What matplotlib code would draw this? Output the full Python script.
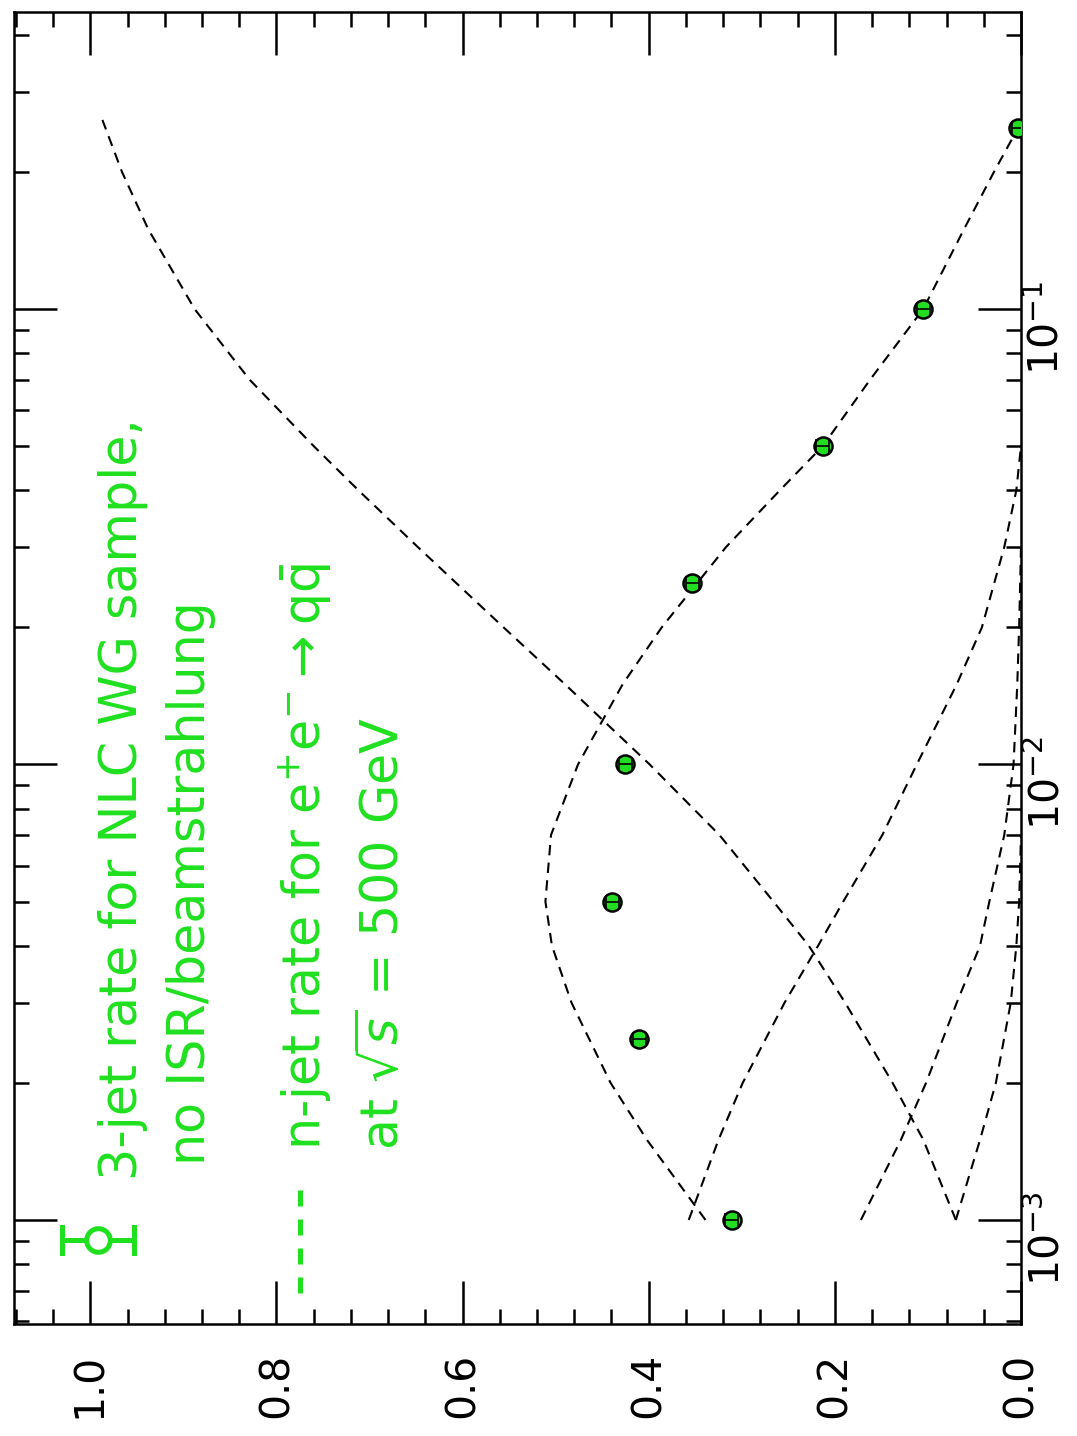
import matplotlib
matplotlib.use('Agg')
import matplotlib.pyplot as plt
import numpy as np
from matplotlib.ticker import MultipleLocator, LogLocator, NullFormatter, FormatStrFormatter
from matplotlib import transforms
from matplotlib.lines import Line2D

# 3-jet rate, NLC WG sample (points)
ycut_pts = [0.001, 0.0025, 0.005, 0.01, 0.025, 0.05, 0.1, 0.25]
rate3_pts = [0.311, 0.410, 0.439, 0.425, 0.353, 0.213, 0.105, 0.003]
rate3_err = [0.007, 0.007, 0.007, 0.007, 0.007, 0.007, 0.007, 0.007]

# n-jet rates for e+e- -> q qbar at sqrt(s) = 500 GeV (dashed curves)
ycut_2j = [0.001, 0.0015, 0.002, 0.003, 0.004, 0.005, 0.007, 0.01, 0.015, 0.02,
           0.03, 0.04, 0.05, 0.07, 0.1, 0.15, 0.2, 0.26]
rate_2j = [0.070, 0.105, 0.138, 0.189, 0.228, 0.266, 0.324, 0.399, 0.490, 0.556,
           0.648, 0.712, 0.760, 0.829, 0.888, 0.938, 0.966, 0.987]
ycut_3j = [0.001, 0.0015, 0.002, 0.003, 0.004, 0.005, 0.007, 0.01, 0.015, 0.02,
           0.03, 0.04, 0.05, 0.07, 0.1, 0.15, 0.2, 0.25]
rate_3j = [0.339, 0.402, 0.441, 0.483, 0.504, 0.511, 0.505, 0.476, 0.428, 0.386,
           0.317, 0.259, 0.213, 0.162, 0.105, 0.061, 0.029, 0.003]
ycut_4j = [0.001, 0.0015, 0.002, 0.003, 0.004, 0.005, 0.007, 0.01, 0.015, 0.02,
           0.03, 0.04, 0.05]
rate_4j = [0.357, 0.325, 0.299, 0.254, 0.218, 0.191, 0.149, 0.112, 0.069, 0.042,
           0.018, 0.005, 0.0]
ycut_5j = [0.001, 0.0015, 0.002, 0.003, 0.004, 0.005, 0.007, 0.01, 0.015, 0.02, 0.03]
rate_5j = [0.172, 0.129, 0.102, 0.069, 0.044, 0.034, 0.018, 0.008, 0.004, 0.002, 0.0]
ycut_6j = [0.001, 0.0015, 0.002, 0.003, 0.004, 0.005, 0.007]
rate_6j = [0.070, 0.044, 0.027, 0.011, 0.005, 0.002, 0.0]

log_ticks = [1e-3, 1e-2, 1e-1]

W, H = 1077, 1436
green = '#1fe01f'
hand = ['Liberation Sans Narrow', 'DejaVu Sans']

fig = plt.figure(figsize=(W / 100, H / 100), dpi=100)
ax = fig.add_axes([14 / W, 112 / H, 1007 / W, 1312 / H])

# rotated page: rate runs right-to-left, ycut (log) runs upward
ax.set_yscale('log')
ax.set_ylim(5.91e-4, 0.4487)
ax.set_xlim(1.082, 0.0)

dash = dict(color='black', lw=1.5, dashes=(5, 3.5))
for yc, r in [(ycut_2j, rate_2j), (ycut_3j, rate_3j), (ycut_4j, rate_4j),
              (ycut_5j, rate_5j), (ycut_6j, rate_6j)]:
    ax.plot(r, yc, **dash)

ax.plot(rate3_pts, ycut_pts, 'o', ms=13, mfc='#22dd22', mec='black', mew=1.8, zorder=4)
ax.errorbar(rate3_pts, ycut_pts, xerr=rate3_err, fmt='none', ecolor='black',
            elinewidth=1.2, capsize=5, capthick=1.2, zorder=5)

for s in ax.spines.values():
    s.set_linewidth(1.8)

ax.xaxis.set_major_locator(MultipleLocator(0.2))
ax.xaxis.set_minor_locator(MultipleLocator(0.04))
ax.xaxis.set_major_formatter(FormatStrFormatter('%.1f'))
ax.yaxis.set_major_locator(LogLocator(base=10))
ax.yaxis.set_minor_locator(LogLocator(base=10, subs=np.arange(2, 10)))
ax.yaxis.set_major_formatter(NullFormatter())
ax.yaxis.set_minor_formatter(NullFormatter())
ax.tick_params(which='both', direction='in', top=True, right=True, width=1.8)
ax.tick_params(which='major', length=31)
ax.tick_params(which='minor', length=11)
ax.tick_params(axis='x', labelsize=29.5, labelrotation=90, pad=21)

off = transforms.ScaledTranslation(6 / 100, -19 / 100, fig.dpi_scale_trans)
tr = transforms.blended_transform_factory(ax.transAxes, ax.transData) + off
for v in log_ticks:
    ax.text(1.0, v, r'$10^{%d}$' % int(round(np.log10(v))), transform=tr,
            rotation=90, ha='left', va='center', fontsize=29.5)

# handwritten annotations (rotated with the page)
def fxy(x, y):
    return x / W, 1 - y / H

notes = [
    ((137, 1180), '3-jet rate for NLC WG sample,'),
    ((205, 1165), 'no ISR/beamstrahlung'),
    ((320, 1150), r'n-jet rate for e$^{+}$e$^{-}$$\rightarrow$q$\bar{\mathrm{q}}$'),
    ((398, 1150), r'at $\sqrt{s}$ = 500 GeV'),
]
for (x, y), s in notes:
    fig.text(*fxy(x, y), s, rotation=90, rotation_mode='anchor', ha='left',
             va='baseline', color=green, fontsize=36.5, family=hand)

# legend symbols
def seg(x0, y0, x1, y1, **kw):
    (a, b), (c, d) = fxy(x0, y0), fxy(x1, y1)
    fig.add_artist(Line2D([a, c], [b, d], transform=fig.transFigure, color=green, **kw))

seg(62, 1240, 86, 1240, lw=3.6)
seg(110, 1240, 134, 1240, lw=3.6)
seg(62, 1227, 62, 1253, lw=3.6)
seg(134, 1227, 134, 1253, lw=3.6)
cx, cy = fxy(98, 1240)
fig.add_artist(Line2D([cx], [cy], transform=fig.transFigure, marker='o', ms=17,
                      mfc='none', mec=green, mew=3.6))
seg(300, 1293, 300, 1190, lw=3.6, dashes=(3.2, 2.6))

fig.savefig('out.png', dpi=100)
